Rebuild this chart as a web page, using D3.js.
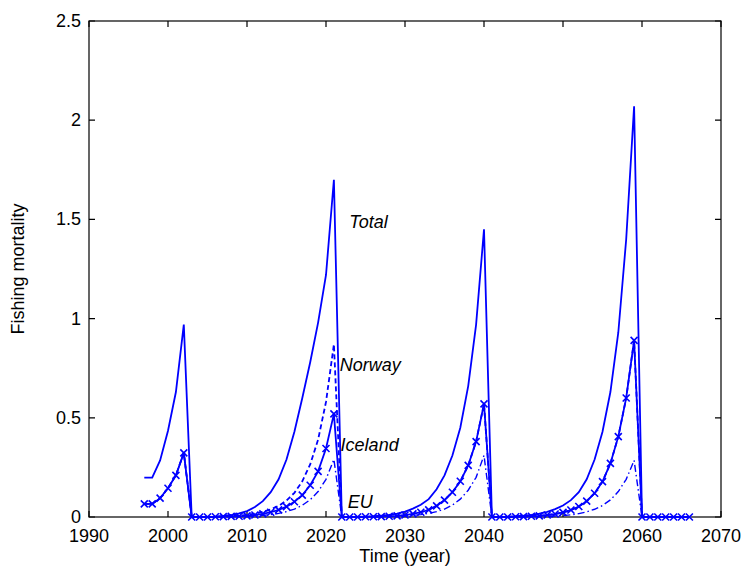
<!DOCTYPE html>
<html>
<head>
<meta charset="utf-8">
<script src="https://cdn.jsdelivr.net/npm/d3@7"></script>
<style>
  body { margin: 0; background: #fff; }
  text { font-family: "Liberation Sans", Arial, sans-serif; }
</style>
</head>
<body>
<script>
var width  = 745;
var height = 575;

var margin = { top: 21, right: 24, bottom: 58, left: 89 };

var years = [
  1997, 1998, 1999, 2000, 2001, 2002, 2003, 2004, 2005, 2006,
  2007, 2008, 2009, 2010, 2011, 2012, 2013, 2014, 2015, 2016,
  2017, 2018, 2019, 2020, 2021, 2022, 2023, 2024, 2025, 2026,
  2027, 2028, 2029, 2030, 2031, 2032, 2033, 2034, 2035, 2036,
  2037, 2038, 2039, 2040, 2041, 2042, 2043, 2044, 2045, 2046,
  2047, 2048, 2049, 2050, 2051, 2052, 2053, 2054, 2055, 2056,
  2057, 2058, 2059, 2060, 2061, 2062, 2063, 2064, 2065, 2066
];

// fishing mortality, one value per year
var total = [
  0.198, 0.198, 0.285, 0.435, 0.63,  0.97,  0,     0,     0.001, 0.002,
  0.005, 0.01,  0.018, 0.03,  0.05,  0.08,  0.125, 0.19,  0.29,  0.43,
  0.60,  0.78,  0.98,  1.22,  1.70,  0,     0,     0,     0.002, 0.004,
  0.007, 0.011, 0.017, 0.027, 0.042, 0.062, 0.09,  0.14,  0.21,  0.31,
  0.45,  0.66,  0.97,  1.45,  0,     0.001, 0.002, 0.004, 0.007, 0.011,
  0.017, 0.026, 0.04,  0.058, 0.085, 0.125, 0.19,  0.29,  0.43,  0.63,
  0.93,  1.40,  2.07,  0,     0,     0,     0,     0,     0,     0
];

var norway = [
  0.066, 0.066, 0.095, 0.145, 0.21,  0.323, 0,     0,     0,     0.001,
  0.002, 0.004, 0.007, 0.011, 0.017, 0.026, 0.038, 0.056, 0.083, 0.122,
  0.18,  0.265, 0.39,  0.58,  0.87,  0,     0,     0,     0.001, 0.001,
  0.002, 0.004, 0.006, 0.01,  0.016, 0.024, 0.036, 0.056, 0.085, 0.125,
  0.18,  0.26,  0.38,  0.57,  0,     0,     0,     0.001, 0.002, 0.004,
  0.006, 0.01,  0.015, 0.023, 0.035, 0.053, 0.08,  0.12,  0.178, 0.27,
  0.405, 0.60,  0.89,  0,     0,     0,     0,     0,     0,     0
];

var iceland = [
  0.066, 0.066, 0.095, 0.145, 0.21,  0.323, 0,     0,     0,     0.001,
  0.002, 0.003, 0.004, 0.006, 0.01,  0.016, 0.024, 0.036, 0.052, 0.077,
  0.11,  0.16,  0.23,  0.345, 0.52,  0,     0,     0,     0.001, 0.001,
  0.002, 0.004, 0.006, 0.01,  0.016, 0.024, 0.036, 0.056, 0.085, 0.125,
  0.18,  0.26,  0.38,  0.57,  0,     0,     0,     0.001, 0.002, 0.004,
  0.006, 0.01,  0.015, 0.023, 0.035, 0.053, 0.08,  0.12,  0.178, 0.27,
  0.405, 0.60,  0.89,  0,     0,     0,     0,     0,     0,     0
];

var eu = [
  0.066, 0.066, 0.095, 0.145, 0.21,  0.323, 0,     0,     0,     0,
  0,     0.001, 0.002, 0.003, 0.005, 0.008, 0.012, 0.018, 0.027, 0.04,
  0.059, 0.087, 0.128, 0.19,  0.29,  0,     0,     0,     0,     0,
  0.001, 0.002, 0.003, 0.005, 0.008, 0.012, 0.018, 0.027, 0.04,  0.06,
  0.09,  0.135, 0.20,  0.31,  0,     0,     0,     0,     0,     0.001,
  0.002, 0.003, 0.005, 0.007, 0.011, 0.017, 0.026, 0.039, 0.058, 0.086,
  0.128, 0.19,  0.285, 0,     0,     0,     0,     0,     0,     0
];

var xTicks = [1990, 2000, 2010, 2020, 2030, 2040, 2050, 2060, 2070];
var yTicks = [0, 0.5, 1, 1.5, 2, 2.5];

var labels = [
  { text: 'Total',   year: 2022.95, value: 1.455 },
  { text: 'Norway',  year: 2021.75, value: 0.735 },
  { text: 'Iceland', year: 2021.85, value: 0.335 },
  { text: 'EU',      year: 2022.75, value: 0.045 }
];

var blue = '#0000ff';

var svg = d3.select('body')
            .append('svg')
            .attr('width', width)
            .attr('height', height);

var x = d3.scaleLinear()
          .domain([1990, 2070])
          .range([margin.left, width - margin.right]);

var y = d3.scaleLinear()
          .domain([0, 2.5])
          .range([height - margin.bottom, margin.top]);

var line = function(values){
  return d3.line()
           .x(function(d, i){ return x(years[i]); })
           .y(function(d){ return y(d); })(values);
};

// frame and ticks
var tickLen = 6;
var g = svg.append('g');

g.selectAll('.xt')
 .data(xTicks)
 .enter()
 .append('text')
 .attr('x', function(d){ return x(d); })
 .attr('y', y(0) + 25)
 .attr('text-anchor', 'middle')
 .attr('font-size', '18px')
 .text(function(d){ return d; });

g.selectAll('.yt')
 .data(yTicks)
 .enter()
 .append('text')
 .attr('x', x(1990) - 8)
 .attr('y', function(d){ return y(d) + 6; })
 .attr('text-anchor', 'end')
 .attr('font-size', '18px')
 .text(function(d){ return d; });

var tickPaths = [];
xTicks.forEach(function(t){
  tickPaths.push('M' + x(t) + ',' + y(0) + 'v' + (-tickLen));
  tickPaths.push('M' + x(t) + ',' + y(2.5) + 'v' + tickLen);
});
yTicks.forEach(function(t){
  tickPaths.push('M' + x(1990) + ',' + y(t) + 'h' + tickLen);
  tickPaths.push('M' + x(2070) + ',' + y(t) + 'h' + (-tickLen));
});

g.append('path')
 .attr('d', tickPaths.join(''))
 .attr('stroke', '#000')
 .attr('stroke-width', 1.2)
 .attr('fill', 'none');

// series
var plot = svg.append('g');

plot.append('path')
    .attr('d', line(eu))
    .attr('fill', 'none')
    .attr('stroke', blue)
    .attr('stroke-width', 1.4)
    .attr('stroke-dasharray', '7,3,1.5,3');

plot.append('path')
    .attr('d', line(norway))
    .attr('fill', 'none')
    .attr('stroke', blue)
    .attr('stroke-width', 1.8)
    .attr('stroke-dasharray', '5,3');

plot.append('path')
    .attr('d', line(iceland))
    .attr('fill', 'none')
    .attr('stroke', blue)
    .attr('stroke-width', 1.8);

plot.selectAll('.mk')
    .data(iceland)
    .enter()
    .append('path')
    .attr('d', function(d, i){
      var cx = x(years[i]), cy = y(d), s = 3.5;
      return 'M' + (cx - s) + ',' + (cy - s) + 'L' + (cx + s) + ',' + (cy + s) +
             'M' + (cx - s) + ',' + (cy + s) + 'L' + (cx + s) + ',' + (cy - s);
    })
    .attr('stroke', blue)
    .attr('stroke-width', 1.6)
    .attr('fill', 'none');

plot.append('path')
    .attr('d', line(total))
    .attr('fill', 'none')
    .attr('stroke', blue)
    .attr('stroke-width', 1.8);

g.append('rect')
 .attr('x', x(1990))
 .attr('y', y(2.5))
 .attr('width', x(2070) - x(1990))
 .attr('height', y(0) - y(2.5))
 .attr('fill', 'none')
 .attr('stroke', '#000')
 .attr('stroke-width', 1.2);

svg.selectAll('.lab')
   .data(labels)
   .enter()
   .append('text')
   .attr('x', function(d){ return x(d.year); })
   .attr('y', function(d){ return y(d.value); })
   .attr('font-size', '18px')
   .attr('font-style', 'italic')
   .text(function(d){ return d.text; });

svg.append('text')
   .attr('x', (x(1990) + x(2070)) / 2)
   .attr('y', 562)
   .attr('text-anchor', 'middle')
   .attr('font-size', '18px')
   .text('Time (year)');

svg.append('text')
   .attr('transform', 'translate(24,' + (y(0) + y(2.5)) / 2 + ') rotate(-90)')
   .attr('text-anchor', 'middle')
   .attr('font-size', '18px')
   .text('Fishing mortality');
</script>
</body>
</html>
